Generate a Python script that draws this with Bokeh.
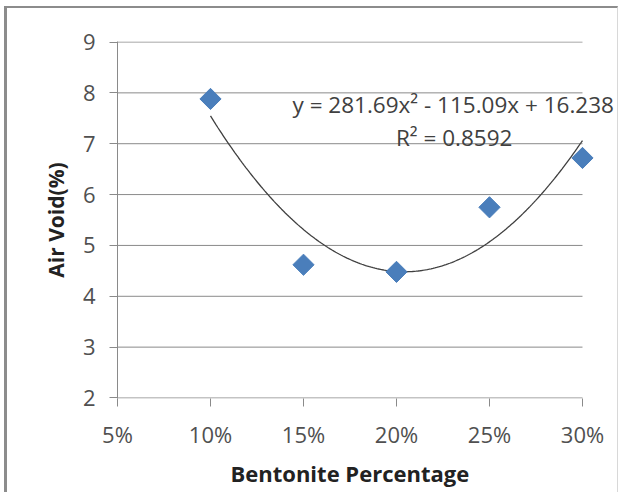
import numpy as np
from bokeh.plotting import figure
from bokeh.models import (ColumnDataSource, NumeralTickFormatter, FixedTicker,
                          Range1d, Label, Title)
from bokeh.embed import file_html
from bokeh.resources import INLINE

# ---- data ----
bentonite = [0.10, 0.15, 0.20, 0.25, 0.30]
air_void = [7.88, 4.62, 4.48, 5.75, 6.72]
x_ticks = [0.05, 0.10, 0.15, 0.20, 0.25, 0.30]
y_ticks = [2, 3, 4, 5, 6, 7, 8, 9]
trend_coef = [281.69, -115.09, 16.238]
eq_text = "y = 281.69x\u00b2 - 115.09x + 16.238"
r2_text = "R\u00b2 = 0.8592"
x_title = "Bentonite Percentage"
y_title = "Air Void(%)"

FONT = "Open Sans"
GRID = "#8a8a8a"

p = figure(width=614, height=486, output_backend="svg", toolbar_location=None,
           x_range=Range1d(0.05, 0.3199), y_range=Range1d(1.99, 9.01),
           min_border_left=110, min_border_right=2, min_border_top=33,
           min_border_bottom=96,
           styles={"margin-left": "4px", "margin-top": "6px",
                   "border-left": "3px solid #8c8c8c",
                   "border-top": "2px solid #8c8c8c",
                   "border-right": "1px solid #d8d8d8"})
p.outline_line_color = None
p.background_fill_color = "white"
p.border_fill_color = "white"

# grid (horizontal lines across the value range only)
p.xgrid.grid_line_color = None
p.ygrid.grid_line_color = None
p.segment(x0=[x_ticks[0]] * len(y_ticks), x1=[x_ticks[-1]] * len(y_ticks),
          y0=y_ticks, y1=y_ticks, line_color=GRID, line_width=1)

# axes
for ax in (p.xaxis[0], p.yaxis[0]):
    ax.axis_line_color = GRID
    ax.major_tick_line_color = GRID
    ax.major_tick_out = 8
    ax.major_tick_in = 0
    ax.minor_tick_line_color = None
    ax.major_label_text_font = FONT
    ax.major_label_text_font_size = "22px"
    ax.major_label_text_color = "#505050"
    ax.axis_label_text_font = FONT
    ax.axis_label_text_font_size = "21px"
    ax.axis_label_text_font_style = "bold"
    ax.axis_label_text_color = "#222222"

p.xaxis.axis_line_color = None
p.xaxis.ticker = FixedTicker(ticks=x_ticks)
p.xaxis.formatter = NumeralTickFormatter(format="0%")
p.xaxis.major_label_standoff = 12

p.yaxis.ticker = FixedTicker(ticks=y_ticks)
p.yaxis.axis_label = y_title
p.yaxis.major_label_standoff = 14
p.yaxis.axis_label_standoff = 10

# x-axis title, centred on the 5%-30% span
p.add_layout(Title(text=x_title, align="left", offset=113, standoff=8,
                   text_font=FONT, text_font_size="22px",
                   text_font_style="bold", text_color="#222222"), "below")

# trendline (polynomial shown on chart)
xt = np.linspace(bentonite[0], bentonite[-1], 200)
yt = np.polyval(trend_coef, xt)
p.line(xt, yt, line_color="#404040", line_width=1.3)

# points
src = ColumnDataSource(dict(x=bentonite, y=air_void))
p.scatter("x", "y", source=src, marker="square", size=15, angle=np.pi / 4,
          fill_color="#4a7ebb", line_color="#4a7ebb")

# equation labels
p.add_layout(Label(x=0.2305, y=7.77, text=eq_text, text_align="center",
                   text_baseline="middle", text_font=FONT,
                   text_font_size="22.5px", text_color="#404040"))
p.add_layout(Label(x=0.231, y=7.12, text=r2_text, text_align="center",
                   text_baseline="middle", text_font=FONT,
                   text_font_size="22.5px", text_color="#404040"))

open("out.html", "w").write(file_html(p, INLINE))
